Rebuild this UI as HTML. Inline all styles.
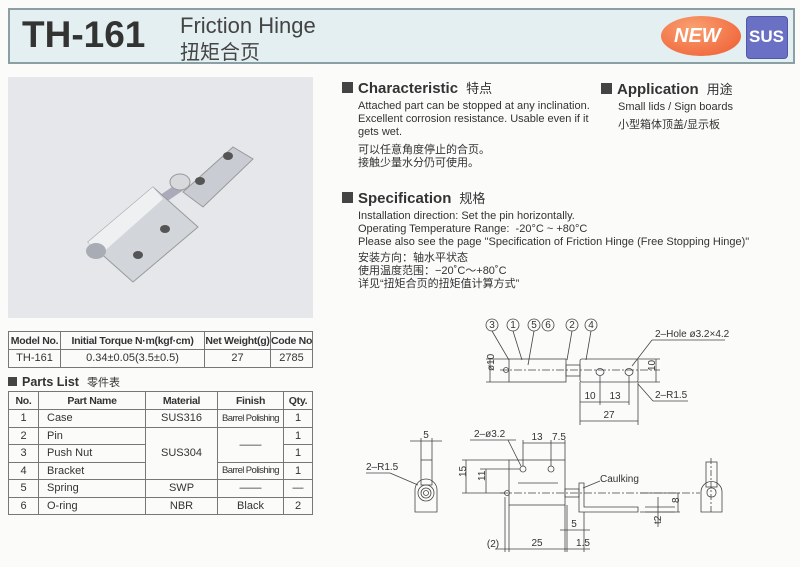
<!DOCTYPE html>
<html><head><meta charset="utf-8"><style>
*{margin:0;padding:0;box-sizing:border-box}
body{width:800px;height:567px;background:#fbfbfa;font-family:"Liberation Sans","Noto Sans CJK SC",sans-serif;color:#333;position:relative;overflow:hidden}
.a{position:absolute;white-space:nowrap}
.h{font-weight:bold;font-size:15px;color:#333}
.h .sq{display:inline-block;width:11px;height:11px;background:#444;margin-right:5px;vertical-align:0}
.h .cn{font-weight:normal;font-size:13px;margin-left:8px}
.t{font-size:11px;line-height:13px;color:#333}
table{border-collapse:collapse;position:absolute;font-size:11px;color:#333;table-layout:fixed}
td{border:1px solid #777;text-align:center;padding:0;height:17.5px;white-space:nowrap;overflow:hidden}
th{border:1px solid #777;font-weight:bold;height:18px;padding:0;white-space:nowrap;overflow:hidden;font-size:10.5px;letter-spacing:-0.3px}
.bp{font-size:9.5px;letter-spacing:-0.6px}
</style></head><body>
<div class="a" style="left:8px;top:8px;width:787px;height:56px;background:#e4eff1;border:2px solid #8aa0a4"></div>
<div class="a" style="left:22px;top:14px;font-size:37px;font-weight:bold;color:#333">TH-161</div>
<div class="a" style="left:180px;top:13px;font-size:22px;color:#444">Friction Hinge</div>
<div class="a" style="left:180px;top:36px;font-size:20px;color:#444;font-family:'Noto Sans CJK SC',sans-serif">扭矩合页</div>
<div class="a" style="left:661px;top:16px;width:80px;height:40px;border-radius:50%;background:radial-gradient(ellipse at 40% 30%,#f9a070,#ee5a30);"></div>
<div class="a" style="left:674px;top:25px;font-size:20px;font-weight:bold;font-style:italic;color:#fff">NEW</div>
<div class="a" style="left:746px;top:16px;width:42px;height:43px;border-radius:4px;background:#6a70c4;border:1px solid #5058a8"></div>
<div class="a" style="left:749px;top:27px;font-size:17px;font-weight:bold;color:#fff">SUS</div>

<svg class="a" style="left:8px;top:77px" width="305" height="241">
<rect width="305" height="241" fill="#e6e7ea"/>
<polygon points="175,115 225,70 245,82 195,130" fill="#c9ccd2" stroke="#999"/>
<line x1="150" y1="125" x2="175" y2="108" stroke="#aab" stroke-width="9"/>
<ellipse cx="172" cy="105" rx="10" ry="8" fill="#d7d9dd" stroke="#999"/>
<polygon points="80,165 145,110 190,150 125,205" fill="#d2d5da" stroke="#999"/>
<polygon points="80,165 145,110 155,122 92,178" fill="#eef0f2"/>
<ellipse cx="88" cy="174" rx="10" ry="8" fill="#a8acb4"/>
<ellipse cx="130" cy="178" rx="5" ry="4" fill="#555"/>
<ellipse cx="157" cy="152" rx="5" ry="4" fill="#555"/>
<ellipse cx="192" cy="104" rx="5" ry="4" fill="#555"/>
<ellipse cx="220" cy="79" rx="5" ry="4" fill="#555"/>
</svg>

<table style="left:8px;top:331px;width:305px">
<colgroup><col style="width:52px"><col style="width:144px"><col style="width:66px"><col></colgroup>
<tr><th>Model No.</th><th>Initial Torque N·m(kgf·cm)</th><th>Net Weight(g)</th><th>Code No.</th></tr>
<tr><td>TH-161</td><td>0.34±0.05(3.5±0.5)</td><td>27</td><td>2785</td></tr>
</table>
<div class="a h" style="left:8px;top:374px;font-size:12.5px"><span class="sq" style="width:9px;height:9px"></span>Parts List<span class="cn" style="font-size:11px">零件表</span></div>
<table style="left:8px;top:391px;width:305px">
<colgroup><col style="width:30px"><col style="width:107px"><col style="width:72px"><col style="width:66px"><col></colgroup>
<tr><th>No.</th><th>Part Name</th><th>Material</th><th>Finish</th><th>Qty.</th></tr>
<tr><td>1</td><td style="text-align:left;padding-left:8px">Case</td><td>SUS316</td><td class="bp">Barrel Polishing</td><td>1</td></tr>
<tr><td>2</td><td style="text-align:left;padding-left:8px">Pin</td><td rowspan="3">SUS304</td><td rowspan="2">——</td><td>1</td></tr>
<tr><td>3</td><td style="text-align:left;padding-left:8px">Push Nut</td><td>1</td></tr>
<tr><td>4</td><td style="text-align:left;padding-left:8px">Bracket</td><td class="bp">Barrel Polishing</td><td>1</td></tr>
<tr><td>5</td><td style="text-align:left;padding-left:8px">Spring</td><td>SWP</td><td>——</td><td>—</td></tr>
<tr><td>6</td><td style="text-align:left;padding-left:8px">O-ring</td><td>NBR</td><td>Black</td><td>2</td></tr>
</table>

<div class="a h" style="left:342px;top:78px"><span class="sq"></span>Characteristic<span class="cn">特点</span></div>
<div class="a t" style="left:358px;top:100px">Attached part can be stopped at any inclination.<br>Excellent corrosion resistance. Usable even if it<br>gets wet.</div>
<div class="a t" style="left:358px;top:144px">可以任意角度停止的合页。<br>接触少量水分仍可使用。</div>
<div class="a h" style="left:601px;top:79px"><span class="sq"></span>Application<span class="cn">用途</span></div>
<div class="a t" style="left:618px;top:101px">Small lids / Sign boards</div>
<div class="a t" style="left:618px;top:119px">小型箱体顶盖/显示板</div>
<div class="a h" style="left:342px;top:188px"><span class="sq"></span>Specification<span class="cn">规格</span></div>
<div class="a t" style="left:358px;top:210px">Installation direction: Set the pin horizontally.<br>Operating Temperature Range:&nbsp; -20°C ~ +80°C<br>Please also see the page "Specification of Friction Hinge (Free Stopping Hinge)"</div>
<div class="a t" style="left:358px;top:252px">安装方向：轴水平状态<br>使用温度范围：−20˚C～+80˚C<br>详见“扭矩合页的扭矩值计算方式”</div>

<svg class="a" style="left:0;top:0" width="800" height="567" font-family="Liberation Sans" font-size="10" fill="none" stroke="#444" stroke-width="0.8">
<g fill="#333" stroke="none" text-anchor="middle">
<text x="492" y="328">3</text><text x="513" y="328">1</text><text x="534" y="328">5</text><text x="548" y="328">6</text><text x="572" y="328">2</text><text x="591" y="328">4</text>
</g>
<circle cx="492" cy="325" r="6"/><circle cx="513" cy="325" r="6"/><circle cx="534" cy="325" r="6"/><circle cx="548" cy="325" r="6"/><circle cx="572" cy="325" r="6"/><circle cx="591" cy="325" r="6"/>
<line x1="492" y1="331" x2="509" y2="360"/><line x1="513" y1="331" x2="522" y2="360"/><line x1="534" y1="331" x2="528" y2="365"/><line x1="572" y1="331" x2="567" y2="360"/><line x1="591" y1="331" x2="586" y2="360"/>
<rect x="509" y="359" width="57" height="23"/><rect x="566" y="365" width="14" height="11"/><rect x="580" y="359" width="58" height="23" rx="2"/>
<circle cx="506" cy="370" r="2.5"/>
<ellipse cx="600" cy="372" rx="4" ry="3.5"/><ellipse cx="629" cy="372" rx="4" ry="3.5"/>
<line x1="500" y1="370" x2="660" y2="370" stroke-dasharray="8 2 2 2"/>
<line x1="490" y1="359" x2="490" y2="382"/><line x1="486" y1="359" x2="509" y2="359"/><line x1="486" y1="382" x2="509" y2="382"/>
<text x="486" y="379" fill="#333" stroke="none" transform="rotate(-90 486 371)">ø10</text>
<line x1="638" y1="359" x2="660" y2="359"/><line x1="638" y1="382" x2="660" y2="382"/><line x1="656" y1="359" x2="656" y2="382"/>
<text x="650" y="376" fill="#333" stroke="none" transform="rotate(-90 650 371)">10</text>
<line x1="580" y1="382" x2="580" y2="425"/><line x1="600" y1="376" x2="600" y2="405"/><line x1="629" y1="376" x2="629" y2="405"/><line x1="638" y1="382" x2="638" y2="425"/>
<line x1="580" y1="402" x2="629" y2="402"/><line x1="580" y1="421" x2="638" y2="421"/>
<g fill="#333" stroke="none" text-anchor="middle"><text x="590" y="399">10</text><text x="615" y="399">13</text><text x="609" y="418">27</text></g>
<line x1="632" y1="366" x2="652" y2="340"/><line x1="652" y1="340" x2="725" y2="340"/>
<text x="655" y="337" fill="#333" stroke="none">2–Hole ø3.2×4.2</text>
<line x1="638" y1="384" x2="653" y2="401"/><line x1="653" y1="401" x2="688" y2="401"/>
<text x="655" y="398" fill="#333" stroke="none">2–R1.5</text>

<rect x="421" y="460" width="11" height="25"/><path d="M415 512 V490 A11 11 0 0 1 437 490 V512 Z"/>
<circle cx="426" cy="493" r="8"/><circle cx="426" cy="493" r="5"/><circle cx="426" cy="493" r="2.5"/>
<line x1="421" y1="438" x2="421" y2="460"/><line x1="432" y1="438" x2="432" y2="460"/><line x1="410" y1="441" x2="442" y2="441"/>
<text x="426" y="438" fill="#333" stroke="none" text-anchor="middle">5</text>
<line x1="390" y1="473" x2="418" y2="485"/><line x1="366" y1="473" x2="390" y2="473"/>
<text x="366" y="470" fill="#333" stroke="none">2–R1.5</text>
<rect x="509" y="460" width="56" height="45"/><line x1="518" y1="483" x2="558" y2="483"/>
<circle cx="523" cy="469" r="3"/><circle cx="551" cy="469" r="3"/>
<line x1="500" y1="493" x2="700" y2="493" stroke-dasharray="8 2 2 2"/>
<rect x="565" y="489" width="14" height="8"/><circle cx="507" cy="493" r="2.5"/>
<path d="M579 483 H584 V507 H638 V512 H579 Z"/><line x1="645" y1="507" x2="675" y2="507"/><line x1="645" y1="512" x2="675" y2="512"/>
<line x1="523" y1="440" x2="523" y2="466"/><line x1="551" y1="440" x2="551" y2="466"/><line x1="565" y1="440" x2="565" y2="460"/>
<line x1="523" y1="443" x2="565" y2="443"/>
<g fill="#333" stroke="none" text-anchor="middle"><text x="537" y="440">13</text><text x="559" y="440">7.5</text></g>
<line x1="470" y1="440" x2="516" y2="440"/><line x1="508" y1="440" x2="521" y2="466"/>
<text x="474" y="437" fill="#333" stroke="none">2–ø3.2</text>
<line x1="462" y1="460" x2="509" y2="460"/><line x1="480" y1="469" x2="520" y2="469"/><line x1="462" y1="493" x2="505" y2="493"/>
<line x1="466" y1="460" x2="466" y2="493"/><line x1="486" y1="469" x2="486" y2="493"/>
<text x="462" y="481" fill="#333" stroke="none" transform="rotate(-90 462 477)">15</text>
<text x="482" y="484" fill="#333" stroke="none" transform="rotate(-90 482 481)">11</text>
<line x1="505" y1="497" x2="505" y2="552"/><line x1="509" y1="505" x2="509" y2="552"/><line x1="565" y1="505" x2="565" y2="552"/><line x1="567" y1="505" x2="567" y2="552"/><line x1="584" y1="512" x2="584" y2="552"/>
<line x1="495" y1="549" x2="590" y2="549"/><line x1="560" y1="530" x2="590" y2="530"/>
<g fill="#333" stroke="none" text-anchor="middle"><text x="493" y="547">(2)</text><text x="537" y="546">25</text><text x="583" y="546">1.5</text><text x="574" y="527">5</text></g>
<line x1="583" y1="488" x2="600" y2="481"/><text x="600" y="482" fill="#333" stroke="none">Caulking</text>
<line x1="640" y1="493" x2="680" y2="493"/><line x1="640" y1="512" x2="680" y2="512"/>
<line x1="678" y1="493" x2="678" y2="512"/><line x1="658" y1="497" x2="658" y2="527"/>
<text x="675" y="507" fill="#333" stroke="none" transform="rotate(-90 675 503)">8</text>
<text x="656" y="529" fill="#333" stroke="none" transform="rotate(-90 656 524)">t2</text>
<rect x="706" y="462" width="11" height="25"/><path d="M701 512 V492 A10.5 10.5 0 0 1 722 492 V512 Z"/>
<rect x="707" y="488" width="9" height="9" rx="4"/>
<line x1="711" y1="458" x2="711" y2="512" stroke-dasharray="6 2 2 2"/>
</svg>
</body></html>
